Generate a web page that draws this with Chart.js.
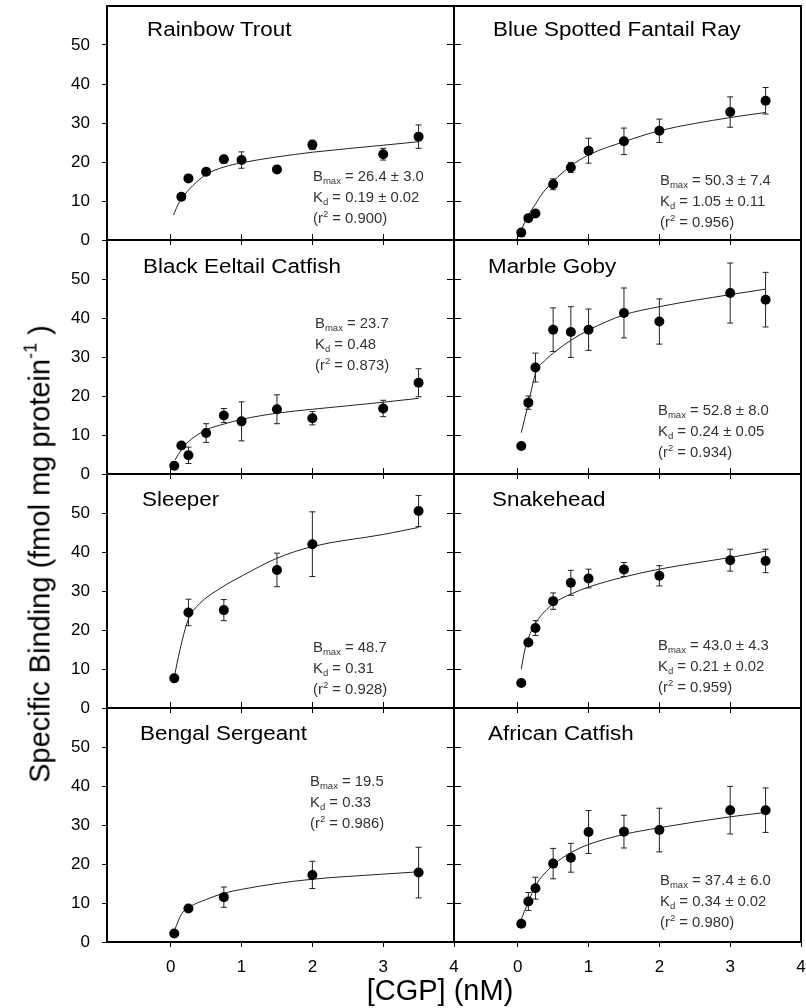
<!DOCTYPE html>
<html><head><meta charset="utf-8">
<script src="https://cdn.jsdelivr.net/npm/chart.js@4.4.1/dist/chart.umd.min.js"></script>
<style>
html,body{margin:0;padding:0;background:#fff;}
#wrap{position:relative;width:806px;height:1008px;overflow:hidden;background:#fff;font-family:'Liberation Sans',Arial,sans-serif;}
#wrap canvas{position:absolute;left:0;top:0;}
.ttl{position:absolute;font-size:20px;line-height:20px;white-space:nowrap;color:#000;transform:scaleX(1.12);transform-origin:0 0;}
.ann{position:absolute;font-size:14px;line-height:21px;white-space:nowrap;color:#333;transform:scaleX(1.06);transform-origin:0 0;}
.ann sub,.ann sup{font-size:9px;line-height:0;position:relative;vertical-align:baseline;}
.ann sub{top:3px;}
.ann sup{top:-6px;}
.axt{position:absolute;font-size:29px;line-height:29px;white-space:nowrap;color:#000;}
.axt sup{font-size:18px;line-height:0;position:relative;vertical-align:baseline;top:-13px;}
</style>
</head><body>
<div id="wrap"></div>
<script>
// ---------- tick labels ----------
const xTickValues = [0, 1, 2, 3, 4];
const yTickValues = [0, 10, 20, 30, 40, 50];

// ---------- panel names ----------
const panelNames = ['Rainbow Trout', 'Blue Spotted Fantail Ray', 'Black Eeltail Catfish', 'Marble Goby',
                    'Sleeper', 'Snakehead', 'Bengal Sergeant', 'African Catfish'];

// ---------- Rainbow Trout ----------
const troutConc    = [0.15, 0.25, 0.5, 0.75, 1, 1.5, 2, 3, 3.5];
const troutBinding = [11.1, 15.8, 17.5, 20.7, 20.5, 18.1, 24.4, 22.0, 26.5];
const troutSEM     = [0.5, 0.5, 0.6, 1.0, 2.1, 0.6, 1.2, 1.5, 3.0];
const troutFitX    = [0.04, 0.1, 0.15, 0.25, 0.5, 0.75, 1, 1.5, 2, 3, 3.5];
const troutFitY    = [6.4, 9.0, 10.5, 12.8, 16.8, 18.7, 19.8, 21.3, 22.5, 24.3, 25.2];

// ---------- Blue Spotted Fantail Ray ----------
const rayConc    = [0.05, 0.15, 0.25, 0.5, 0.75, 1, 1.5, 2, 3, 3.5];
const rayBinding = [1.9, 5.6, 6.8, 14.3, 18.6, 22.9, 25.3, 28.0, 32.8, 35.7];
const raySEM     = [0.5, 0.8, 0.8, 1.4, 1.3, 3.2, 3.4, 3.0, 3.9, 3.4];
const rayFitX    = [0.05, 0.15, 0.25, 0.35, 0.5, 0.75, 1, 1.5, 2, 3, 3.5];
const rayFitY    = [2.6, 6.4, 9.2, 12.0, 15.0, 19.0, 21.8, 25.2, 28.0, 31.4, 32.7];

// ---------- Black Eeltail Catfish ----------
const eelConc    = [0.05, 0.15, 0.25, 0.5, 0.75, 1, 1.5, 2, 3, 3.5];
const eelBinding = [2.1, 7.3, 4.8, 10.5, 15.0, 13.5, 16.6, 14.3, 16.8, 23.4];
const eelSEM     = [0.5, 0.6, 2.1, 2.4, 1.8, 5.0, 3.7, 1.7, 2.1, 3.6];
const eelFitX    = [0.06, 0.15, 0.25, 0.5, 0.75, 1, 1.5, 2, 3, 3.5];
const eelFitY    = [3.6, 6.2, 8.3, 11.3, 12.8, 14.0, 15.6, 16.6, 18.4, 19.4];

// ---------- Marble Goby ----------
const gobyConc    = [0.05, 0.15, 0.25, 0.5, 0.75, 1, 1.5, 2, 3, 3.5];
const gobyBinding = [7.2, 18.3, 27.3, 37.0, 36.4, 37.0, 41.3, 39.1, 46.4, 44.7];
const gobySEM     = [0.5, 1.7, 3.7, 5.6, 6.5, 5.3, 6.4, 5.8, 7.7, 7.0];
const gobyFitX    = [0.05, 0.15, 0.26, 0.39, 0.53, 0.76, 1, 1.5, 2, 3, 3.5];
const gobyFitY    = [10.6, 18.1, 26.2, 29.2, 31.4, 34.4, 36.9, 40.8, 42.9, 46.0, 47.4];

// ---------- Sleeper ----------
const sleeperConc    = [0.05, 0.25, 0.75, 1.5, 2, 3.5];
const sleeperBinding = [7.6, 24.5, 25.1, 35.4, 42.0, 50.5];
const sleeperSEM     = [0.5, 3.4, 2.7, 4.3, 8.3, 4.0];
const sleeperFitX    = [0.05, 0.13, 0.2, 0.26, 0.41, 0.7, 1.03, 1.5, 2, 3, 3.5];
const sleeperFitY    = [8.0, 14.9, 20.0, 23.2, 26.8, 30.7, 34.1, 38.4, 41.4, 44.5, 46.3];

// ---------- Snakehead ----------
const snakeConc    = [0.05, 0.15, 0.25, 0.5, 0.75, 1, 1.5, 2, 3, 3.5];
const snakeBinding = [6.4, 16.8, 20.5, 27.4, 32.1, 33.2, 35.5, 33.9, 37.9, 37.7];
const snakeSEM     = [0.5, 0.8, 1.9, 2.1, 3.2, 2.4, 1.8, 2.6, 2.8, 3.0];
const snakeFitX    = [0.05, 0.1, 0.15, 0.25, 0.5, 0.75, 1, 1.5, 2, 3, 3.5];
const snakeFitY    = [10.0, 14.9, 17.9, 21.7, 26.7, 29.2, 31.0, 33.6, 35.6, 38.6, 40.2];

// ---------- Bengal Sergeant ----------
const sergeantConc    = [0.05, 0.25, 0.75, 2, 3.5];
const sergeantBinding = [2.2, 8.6, 11.5, 17.2, 17.8];
const sergeantSEM     = [0.5, 0.8, 2.6, 3.5, 6.5];
const sergeantFitX    = [0.06, 0.15, 0.25, 0.5, 0.75, 1, 1.5, 2, 3, 3.5];
const sergeantFitY    = [3.3, 7.1, 8.8, 10.9, 12.5, 13.5, 15.0, 16.1, 17.4, 18.0];

// ---------- African Catfish ----------
const africanConc    = [0.05, 0.15, 0.25, 0.5, 0.75, 1, 1.5, 2, 3, 3.5];
const africanBinding = [4.7, 10.4, 13.8, 20.1, 21.6, 28.2, 28.3, 28.7, 33.8, 33.8];
const africanSEM     = [0.5, 2.3, 2.8, 3.9, 3.7, 5.5, 4.2, 5.6, 6.1, 5.7];
const africanFitX    = [0.04, 0.15, 0.25, 0.5, 0.75, 1, 1.5, 2, 3, 3.5];
const africanFitY    = [5.4, 10.3, 14.4, 19.7, 22.9, 25.0, 27.6, 29.3, 32.1, 33.2];

// ---------- fit parameter labels ----------
const bmaxLabels = ['26.4 ± 3.0', '50.3 ± 7.4', '23.7', '52.8 ± 8.0', '48.7', '43.0 ± 4.3', '19.5', '37.4 ± 6.0'];
const kdLabels   = ['0.19 ± 0.02', '1.05 ± 0.11', '0.48', '0.24 ± 0.05', '0.31', '0.21 ± 0.02', '0.33', '0.34 ± 0.02'];
const r2Labels   = ['0.900', '0.956', '0.873', '0.934', '0.928', '0.959', '0.986', '0.980'];

const seriesSets = [
  [troutConc, troutBinding, troutSEM, troutFitX, troutFitY],
  [rayConc, rayBinding, raySEM, rayFitX, rayFitY],
  [eelConc, eelBinding, eelSEM, eelFitX, eelFitY],
  [gobyConc, gobyBinding, gobySEM, gobyFitX, gobyFitY],
  [sleeperConc, sleeperBinding, sleeperSEM, sleeperFitX, sleeperFitY],
  [snakeConc, snakeBinding, snakeSEM, snakeFitX, snakeFitY],
  [sergeantConc, sergeantBinding, sergeantSEM, sergeantFitX, sergeantFitY],
  [africanConc, africanBinding, africanSEM, africanFitX, africanFitY]
];

// ---------- layout (pixels) ----------
const W = 806, H = 1008;
const colEdges = [[107, 454], [454, 801]];
const rowTops = [6, 240, 474, 708];
const rowH = 234;
const titlePos = [[147,19],[493,19],[143,256],[488,256],[142,489],[492,489],[140,723],[488,723]];
const annPos = [[313,166],[660,170],[315,313],[658,400],[313,637],[658,635],[310,771],[660,870]];
const FONT = "'Liberation Sans', Arial, sans-serif";

Chart.defaults.font.family = FONT;

function fitTo(size) {
  return function (s) {
    if (s.isHorizontal()) s.height = size; else s.width = size;
    s.paddingLeft = 0; s.paddingRight = 0; s.paddingTop = 0; s.paddingBottom = 0;
  };
}
function setTicks(values) {
  return function (s) { s.ticks = values.map(v => ({ value: v })); };
}
function errSegments(conc, bind, sem) {
  const pts = [];
  for (let i = 0; i < conc.length; i++) {
    pts.push({ x: conc[i], y: bind[i] - sem[i] });
    pts.push({ x: conc[i], y: bind[i] + sem[i] });
    pts.push({ x: conc[i], y: null });
  }
  return pts;
}
function zip(xs, ys) { return xs.map((x, i) => ({ x: x, y: ys[i] })); }

const wrap = document.getElementById('wrap');

for (let p = 0; p < 8; p++) {
  const col = p % 2, row = Math.floor(p / 2);
  const [conc, bind, sem, fitX, fitY] = seriesSets[p];
  const left = colEdges[col][0], right = colEdges[col][1];
  const top = rowTops[row], bottom = top + rowH;
  const showY = col === 0, showX = row === 3;
  const yAxisW = showY ? left : 0;
  const xAxisH = showX ? H - bottom : 0;

  const cv = document.createElement('canvas');
  cv.width = W; cv.height = H;
  wrap.appendChild(cv);

  const border = { display: true, color: '#000', width: 2 };
  const tickFont = { family: FONT, size: 17 };

  new Chart(cv, {
    type: 'scatter',
    data: {
      datasets: [
        { data: zip(conc, bind), pointRadius: 5, pointHoverRadius: 5, pointBackgroundColor: '#000',
          pointBorderWidth: 0, showLine: false },
        { data: zip(fitX, fitY), showLine: true, borderColor: '#222', borderWidth: 1, pointRadius: 0,
          cubicInterpolationMode: 'monotone', fill: false },
        { data: errSegments(conc, bind, sem), showLine: true, borderColor: '#222', borderWidth: 1,
          pointStyle: 'line', pointRadius: 3, pointHoverRadius: 3, pointBorderColor: '#222', pointBorderWidth: 1,
          spanGaps: false }
      ]
    },
    options: {
      responsive: false, animation: false, devicePixelRatio: 1, events: [],
      layout: { padding: { left: left - yAxisW, right: W - right, top: top, bottom: H - bottom - xAxisH } },
      plugins: { legend: { display: false }, tooltip: { enabled: false } },
      scales: {
        x: {
          type: 'linear', position: 'bottom', min: -0.9, max: 4,
          afterBuildTicks: setTicks(xTickValues), afterFit: fitTo(xAxisH),
          grid: { drawOnChartArea: false, drawTicks: true, tickLength: 5, tickWidth: 1, tickColor: '#000' },
          border: border,
          ticks: { display: showX, font: tickFont, color: '#000', padding: 10, maxRotation: 0, autoSkip: false }
        },
        x2: {
          type: 'linear', position: 'top', min: -0.9, max: 4, display: true,
          afterBuildTicks: setTicks(xTickValues), afterFit: fitTo(0),
          grid: { drawOnChartArea: false, drawTicks: row > 0, tickLength: 6, tickWidth: 1, tickColor: '#000' },
          border: border,
          ticks: { display: false }
        },
        y: {
          type: 'linear', position: 'left', min: 0, max: 60,
          afterBuildTicks: setTicks(yTickValues), afterFit: fitTo(yAxisW),
          grid: { drawOnChartArea: false, drawTicks: true, tickLength: col === 0 ? 5 : 7, tickWidth: 1, tickColor: '#000' },
          border: border,
          ticks: { display: showY, font: tickFont, color: '#000', padding: 12, autoSkip: false }
        },
        y2: {
          type: 'linear', position: 'right', min: 0, max: 60, display: true,
          afterBuildTicks: setTicks(yTickValues), afterFit: fitTo(0),
          grid: { drawOnChartArea: false, drawTicks: col === 0, tickLength: 7, tickWidth: 1, tickColor: '#000' },
          border: border,
          ticks: { display: false }
        }
      }
    }
  });

  const t = document.createElement('div');
  t.className = 'ttl';
  t.style.left = titlePos[p][0] + 'px'; t.style.top = titlePos[p][1] + 'px';
  t.textContent = panelNames[p];
  wrap.appendChild(t);

  const a = document.createElement('div');
  a.className = 'ann';
  a.style.left = annPos[p][0] + 'px'; a.style.top = annPos[p][1] + 'px';
  a.innerHTML = 'B<sub>max</sub> = ' + bmaxLabels[p] + '<br>K<sub>d</sub> = ' + kdLabels[p] +
                '<br>(r<sup>2</sup> = ' + r2Labels[p] + ')';
  wrap.appendChild(a);
}

const yt = document.createElement('div');
yt.className = 'axt';
yt.style.left = '40px'; yt.style.top = '554px';
yt.style.transform = 'translate(-50%,-50%) rotate(-90deg)';
yt.innerHTML = 'Specific Binding (fmol mg protein<sup>-1</sup> )';
wrap.appendChild(yt);

const xt = document.createElement('div');
xt.className = 'axt';
xt.style.left = '440px'; xt.style.top = '976px';
xt.style.transform = 'translateX(-50%)';
xt.textContent = '[CGP] (nM)';
wrap.appendChild(xt);
</script>
</body></html>
